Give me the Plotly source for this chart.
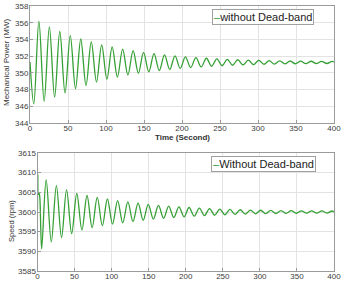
import plotly.graph_objects as go

# ---- data (extrema of the oscillations) ----
body_t = [11.7, 18.6, 25.5, 32.4, 39.2, 46.1, 53.0, 59.9, 66.8, 73.7, 80.6, 87.5,
          94.3, 101.2, 108.1, 115.0, 121.9, 128.8, 135.7, 142.6, 149.4, 156.3,
          163.2, 170.1, 177.0, 183.9, 190.8, 197.7, 204.5, 211.4, 218.3, 225.2,
          232.1, 239.0, 245.9, 252.8, 259.6, 266.5, 273.4, 280.3, 287.2, 294.1,
          301.0, 307.9, 314.7, 321.6, 328.5, 335.4, 342.3, 349.2, 356.1, 363.0,
          369.8, 376.7, 383.6, 390.5, 397.4, 400.0]

power_head_t = [0.0, 5.0]
power_head_v = [351.3, 346.3]
power_body_v = [356.2, 346.6, 355.5, 347.1, 354.95, 347.6, 354.45, 348.1, 354.05, 348.5,
                353.7, 348.9, 353.35, 349.25, 353.1, 349.5, 352.85, 349.75, 352.65, 349.95,
                352.45, 350.13, 352.3, 350.28, 352.15, 350.41, 352.03, 350.53, 351.92, 350.63,
                351.83, 350.71, 351.75, 350.79, 351.68, 350.85, 351.62, 350.91, 351.57, 350.95,
                351.53, 350.99, 351.49, 351.03, 351.46, 351.05, 351.44, 351.07, 351.42, 351.09,
                351.40, 351.10, 351.39, 351.11, 351.38, 351.12, 351.37, 351.30]

speed_head_t = [0.0, 0.4, 1.2, 2.2, 3.2, 5.6]
speed_head_v = [3600.5, 3609.6, 3604.5, 3604.8, 3603.5, 3590.6]
speed_body_v = [3608.2, 3592.4, 3606.7, 3593.5, 3605.6, 3594.5, 3604.7, 3595.4, 3604.2, 3596.0,
                3603.7, 3596.5, 3603.3, 3596.9, 3602.9, 3597.25, 3602.55, 3597.6, 3602.25, 3597.9,
                3601.95, 3598.2, 3601.7, 3598.4, 3601.5, 3598.6, 3601.3, 3598.78, 3601.14, 3598.94,
                3600.99, 3599.08, 3600.86, 3599.2, 3600.75, 3599.3, 3600.65, 3599.39, 3600.57, 3599.47,
                3600.5, 3599.53, 3600.44, 3599.58, 3600.4, 3599.62, 3600.36, 3599.66, 3600.33, 3599.68,
                3600.31, 3599.7, 3600.29, 3599.72, 3600.27, 3599.73, 3600.26, 3600.0]

top_name = "without Dead-band"
bottom_name = "Without Dead-band"
x_ticks = [0, 50, 100, 150, 200, 250, 300, 350, 400]
power_ticks = [344, 346, 348, 350, 352, 354, 356, 358]
speed_ticks = [3585, 3590, 3595, 3600, 3605, 3610, 3615]

GREEN = "#36a036"
FONT = "Liberation Sans, Arial, sans-serif"
W, H = 342, 281

fig = go.Figure()
fig.add_trace(go.Scatter(x=power_head_t + body_t, y=power_head_v + power_body_v,
                         mode="lines", line=dict(color=GREEN, width=1.3, shape="spline", smoothing=1.0),
                         name=top_name, showlegend=False, xaxis="x", yaxis="y"))
fig.add_trace(go.Scatter(x=speed_head_t + body_t, y=speed_head_v + speed_body_v,
                         mode="lines", line=dict(color=GREEN, width=1.3, shape="spline", smoothing=1.0),
                         name=bottom_name, showlegend=False, xaxis="x2", yaxis="y2"))

axis_common = dict(showgrid=True, gridcolor="#e3e3e3", gridwidth=1, zeroline=False,
                   showline=True, linecolor="#9a9a9a", linewidth=1, mirror=True,
                   ticks="inside", ticklen=3, tickcolor="#9a9a9a",
                   tickfont=dict(family=FONT, size=8, color="#404040"), automargin=False)

fig.update_layout(
    width=W, height=H, margin=dict(l=0, r=0, t=0, b=0),
    paper_bgcolor="white", plot_bgcolor="white",
    xaxis=dict(domain=[30 / W, 334 / W], range=[0, 400], tickvals=x_ticks, anchor="y",
               ticklabelstandoff=-3, **axis_common),
    yaxis=dict(domain=[1 - 123 / H, 1 - 6 / H], range=[344, 358], tickvals=power_ticks, anchor="x",
               ticklabelstandoff=-1, **axis_common),
    xaxis2=dict(domain=[37.5 / W, 334 / W], range=[0, 400], tickvals=x_ticks, anchor="y2",
                ticklabelstandoff=-3, **axis_common),
    yaxis2=dict(domain=[1 - 271 / H, 1 - 153 / H], range=[3585, 3615], tickvals=speed_ticks, anchor="x2",
                ticklabelstandoff=-1, **axis_common),
    showlegend=False,
)

ann = []
ann.append(dict(text="<b>Time (Second)</b>", x=182 / W, y=1 - 137 / H, xref="paper", yref="paper",
                xanchor="center", yanchor="middle",
                showarrow=False, font=dict(family=FONT, size=8, color="#333333")))
ann.append(dict(text="Mechanical Power (MW)", x=6 / W, y=1 - 63 / H, xref="paper", yref="paper",
                xanchor="center", yanchor="middle",
                showarrow=False, textangle=-90, font=dict(family=FONT, size=8, color="#333333")))
ann.append(dict(text="Speed (rpm)", x=11 / W, y=1 - 221 / H, xref="paper", yref="paper",
                xanchor="center", yanchor="middle",
                showarrow=False, textangle=-90, font=dict(family=FONT, size=7.5, color="#333333")))
for name, yc in [(top_name, 17), (bottom_name, 164.5)]:
    ann.append(dict(text=f"<span style='color:{GREEN}'>–</span>{name}", x=263 / W, y=1 - yc / H,
                    xref="paper", yref="paper", xanchor="center", yanchor="middle", showarrow=False,
                    font=dict(family=FONT, size=11, color="#222222"),
                    bgcolor="white", bordercolor="#a0a0a0", borderwidth=1, borderpad=1))
fig.update_layout(annotations=ann)

fig.write_html("out.html")
